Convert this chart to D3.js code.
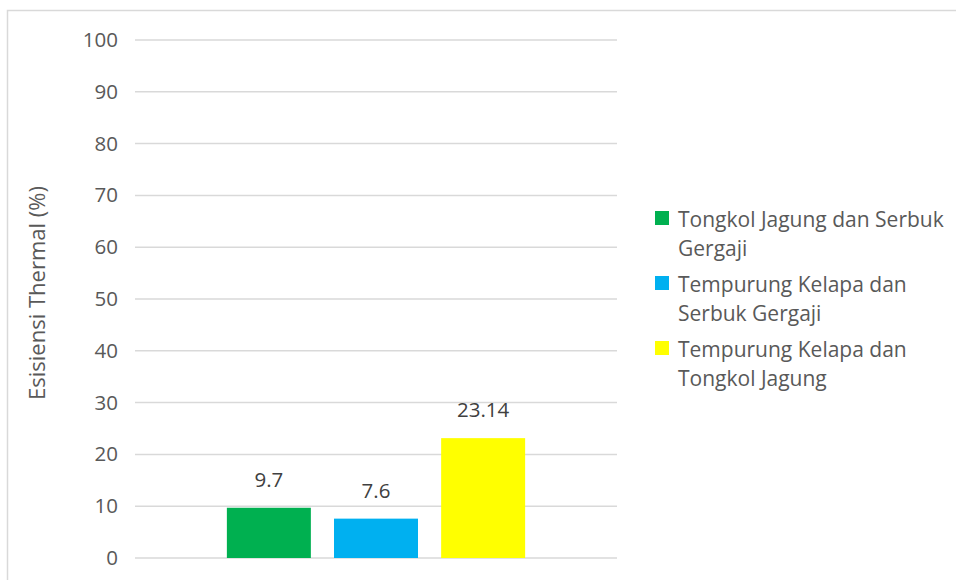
<!DOCTYPE html>
<html>
<head>
<meta charset="utf-8">
<script src="https://cdn.jsdelivr.net/npm/d3@7"></script>
<style>
  body { margin: 0; background: #fff; }
  text { font-family: "Open Sans", sans-serif; }
</style>
</head>
<body>
<script>
// data
var categories = [""];
var seriesNames = ["Tongkol Jagung dan Serbuk Gergaji", "Tempurung Kelapa dan Serbuk Gergaji", "Tempurung Kelapa dan Tongkol Jagung"];
var legendLines = [["Tongkol Jagung dan Serbuk", "Gergaji"], ["Tempurung Kelapa dan", "Serbuk Gergaji"], ["Tempurung Kelapa dan", "Tongkol Jagung"]];
var seriesValues = [9.7, 7.6, 23.14];
var valueLabels = ["9.7", "7.6", "23.14"];
var seriesColors = ["#00b050", "#00b0f0", "#ffff00"];
var yTicks = [0, 10, 20, 30, 40, 50, 60, 70, 80, 90, 100];

var svgWidth = 956, svgHeight = 580;
var margin = {top: 40, left: 135, right: 339, bottom: 22};
var chartWidth = svgWidth - margin.left - margin.right;
var chartHeight = svgHeight - margin.top - margin.bottom;

var svg = d3.select("body").append("svg")
  .attr("width", svgWidth)
  .attr("height", svgHeight);

// outer border
svg.append("rect")
  .attr("x", 7.5).attr("y", 10.5)
  .attr("width", 960).attr("height", 600)
  .attr("fill", "none")
  .attr("stroke", "#d9d9d9")
  .attr("stroke-width", 1.5);

var chartGroup = svg.append("g")
  .attr("transform", `translate(${margin.left}, ${margin.top})`);

var yScale = d3.scaleLinear().domain([0, 100]).range([chartHeight, 0]);
var x0 = d3.scaleBand().domain(categories).range([0, chartWidth]).paddingOuter(0.308);
var x1 = d3.scaleBand().domain(seriesNames).range([0, x0.bandwidth()]).paddingInner(0.216);

// gridlines
chartGroup.selectAll(".grid").data(yTicks).enter().append("line")
  .attr("x1", 0).attr("x2", chartWidth)
  .attr("y1", d => yScale(d)).attr("y2", d => yScale(d))
  .attr("stroke", "#d9d9d9").attr("stroke-width", 1.5);

// y axis labels
var yAxis = d3.axisLeft(yScale).tickValues(yTicks).tickSize(0).tickPadding(17);
var yg = chartGroup.append("g").call(yAxis);
yg.select(".domain").remove();
yg.selectAll("text")
  .attr("fill", "#595959")
  .style("font-size", "20.5px")
  .style("font-family", "'Open Sans', sans-serif");

// bars
var group = chartGroup.append("g").attr("transform", `translate(${x0(categories[0])},0)`);
group.selectAll("rect").data(seriesValues).enter().append("rect")
  .attr("x", (d, i) => x1(seriesNames[i]))
  .attr("width", x1.bandwidth())
  .attr("y", d => yScale(d))
  .attr("height", d => chartHeight - yScale(d))
  .attr("fill", (d, i) => seriesColors[i]);

// value labels
group.selectAll(".lbl").data(seriesValues).enter().append("text")
  .attr("x", (d, i) => x1(seriesNames[i]) + x1.bandwidth() / 2)
  .attr("y", d => yScale(d) - 21)
  .attr("text-anchor", "middle")
  .attr("fill", "#404040")
  .style("font-size", "20.5px")
  .text((d, i) => valueLabels[i]);

// y axis title
svg.append("text")
  .attr("transform", "translate(45, 293) rotate(-90)")
  .attr("text-anchor", "middle")
  .attr("fill", "#595959")
  .style("font-size", "22px")
  .text("Esisiensi Thermal (%)");

// legend
var legend = svg.append("g").attr("transform", "translate(655, 211)");
var entry = legend.selectAll(".entry").data(seriesNames).enter().append("g")
  .attr("transform", (d, i) => `translate(0, ${i * 65})`);
entry.append("rect")
  .attr("width", 14).attr("height", 14)
  .attr("fill", (d, i) => seriesColors[i]);
entry.each(function(d, i) {
  var t = d3.select(this).append("text")
    .attr("fill", "#595959")
    .style("font-size", "21px");
  legendLines[i].forEach(function(line, j) {
    t.append("tspan").attr("x", 23).attr("y", 16 + j * 28.5).text(line);
  });
});
</script>
</body>
</html>
